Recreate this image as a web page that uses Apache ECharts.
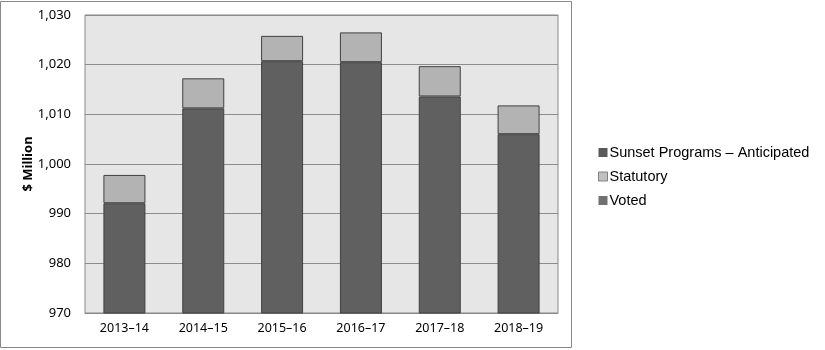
<!DOCTYPE html>
<html><head><meta charset="utf-8">
<script src="https://cdn.jsdelivr.net/npm/echarts@6/dist/echarts.min.js"></script>
<style>html,body{margin:0;padding:0;background:#fff}#c{width:825px;height:350px}</style>
</head><body><div id="c"></div>
<script>
var categories = ['2013–14','2014–15','2015–16','2016–17','2017–18','2018–19'];
var voted = [992.1, 1011.2, 1020.7, 1020.5, 1013.6, 1006.0];
var statutory = [5.7, 6.05, 5.1, 6.0, 6.1, 5.8];
var sunset = [null, null, null, null, null, null];
var yTicks = {min: 970, max: 1030, interval: 10};

var chart = echarts.init(document.getElementById('c'), null, {renderer: 'canvas'});
var font = 'Noto Sans';
chart.setOption({
  animation: false,
  backgroundColor: '#fff',
  graphic: [{type: 'rect', shape: {x: 0.5, y: 1.5, width: 571, height: 346}, style: {fill: 'none', stroke: '#888', lineWidth: 1}, z: 0}],
  grid: {left: 85, top: 15, width: 473, height: 298, show: true, backgroundColor: '#e6e6e6', borderColor: '#888', borderWidth: 1},
  legend: {
    orient: 'vertical', left: 593, top: 140, itemWidth: 9, itemHeight: 9, itemGap: 9, icon: 'rect',
    textStyle: {fontFamily: 'Liberation Sans', fontSize: 14.5, color: '#000', padding: [0, 0, 0, -3]},
    data: [
      {name: 'Sunset Programs – Anticipated', itemStyle: {color: '#595959', borderWidth: 0}},
      {name: 'Statutory', itemStyle: {color: '#c0c0c0', borderColor: '#808080', borderWidth: 1}},
      {name: 'Voted', itemStyle: {color: '#707070', borderWidth: 0}}
    ]
  },
  xAxis: {
    type: 'category', data: categories,
    axisLine: {show: true, lineStyle: {color: '#888'}}, axisTick: {show: false},
    axisLabel: {fontFamily: font, fontSize: 12.5, color: '#000', margin: 9}
  },
  yAxis: {
    type: 'value', min: yTicks.min, max: yTicks.max, interval: yTicks.interval,
    name: '$ Million', nameLocation: 'middle', nameGap: 50, nameMoveOverlap: false,
    nameTextStyle: {fontFamily: font, fontSize: 13, fontWeight: 'bold', color: '#000'},
    axisLine: {show: false}, axisTick: {show: false},
    axisLabel: {fontFamily: font, fontSize: 13, color: '#000', margin: 14,
      formatter: function (v) { return v.toLocaleString('en-US'); }},
    splitLine: {lineStyle: {color: '#8c8c8c', width: 1}}
  },
  series: [
    {name: 'Voted', type: 'bar', stack: 's', data: voted, barWidth: 42,
      itemStyle: {color: '#606060', borderColor: '#404040', borderWidth: 1}},
    {name: 'Statutory', type: 'bar', stack: 's', data: statutory, barWidth: 42,
      itemStyle: {color: '#b3b3b3', borderColor: '#404040', borderWidth: 1}},
    {name: 'Sunset Programs – Anticipated', type: 'bar', stack: 's', data: sunset, barWidth: 42,
      itemStyle: {color: '#595959', borderColor: '#404040', borderWidth: 1}}
  ]
});
</script></body></html>
